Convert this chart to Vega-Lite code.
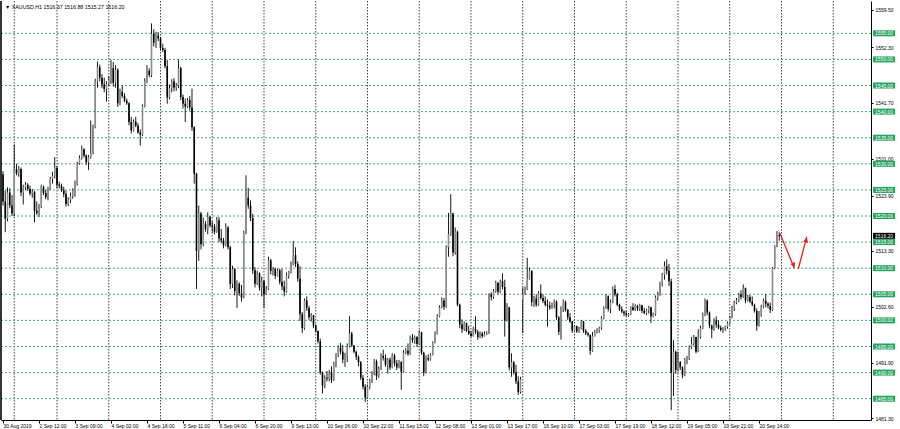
{
"$schema":"https://vega.github.io/schema/vega-lite/v6.json",
"width":870,"height":419,"autosize":"none",
"padding":{"left":1,"top":1,"right":29,"bottom":9},
"background":"#ffffff",
"config":{"view":{"stroke":null},"text":{"font":"Liberation Sans"},
 "scale":{"continuousPadding":0},
 "axis":{"grid":false,"titleOpacity":0,"titlePadding":0,"labelFont":"Liberation Sans","labelFontSize":5,"labelColor":"#000000","tickColor":"#000000","domainColor":"#000000","labelOverlap":false,"labelBound":false,"labelFlush":false}},
"datasets":{
"lv":[{"p":1485},{"p":1490},{"p":1495},{"p":1500},{"p":1505},{"p":1510},{"p":1515},{"p":1520},{"p":1525},{"p":1530},{"p":1535},{"p":1540},{"p":1545},{"p":1550},{"p":1555}],
"vg":[{"i":5},{"i":24},{"i":47},{"i":70},{"i":93},{"i":116},{"i":139},{"i":162},{"i":185},{"i":208},{"i":231},{"i":254},{"i":277},{"i":300},{"i":323},{"i":346},{"i":369}],
"ar":[{"seg":1,"i":345.3,"p":1516.7},{"seg":1,"i":351.7,"p":1510.0},{"seg":2,"i":353.5,"p":1509.9},{"seg":2,"i":357.2,"p":1516.0}],
"bars":[
{"i":0,"o":1528,"h":1528.6,"l":1522,"c":1522.8},{"i":1,"o":1522.8,"h":1524.9,"l":1516.9,"c":1519.5},{"i":2,"o":1519.5,"h":1525.5,"l":1519,"c":1524.5},{"i":3,"o":1524.5,"h":1525.3,"l":1521.5,"c":1522},{"i":4,"o":1522,"h":1524,"l":1520,"c":1520.5},{"i":5,"o":1520.5,"h":1533.7,"l":1520,"c":1529},{"i":6,"o":1529,"h":1530,"l":1527.8,"c":1528.2},{"i":7,"o":1528.2,"h":1529.6,"l":1527.5,"c":1529},{"i":8,"o":1529,"h":1529.3,"l":1523.8,"c":1524.5},{"i":9,"o":1524.5,"h":1526,"l":1522.2,"c":1525.5},
{"i":10,"o":1525.5,"h":1526.5,"l":1525,"c":1526},{"i":11,"o":1526,"h":1526.3,"l":1524.8,"c":1525.2},{"i":12,"o":1525.2,"h":1525.8,"l":1523.9,"c":1524.3},{"i":13,"o":1524.3,"h":1525.2,"l":1523.5,"c":1524.6},{"i":14,"o":1524.6,"h":1524.8,"l":1518.8,"c":1521},{"i":15,"o":1521,"h":1522.8,"l":1520.2,"c":1520.6},{"i":16,"o":1520.6,"h":1522.3,"l":1519.8,"c":1521.9},{"i":17,"o":1521.9,"h":1526,"l":1521.5,"c":1525.6},{"i":18,"o":1525.6,"h":1525.8,"l":1524,"c":1524.4},{"i":19,"o":1524.4,"h":1525,"l":1523.2,"c":1523.6},
{"i":20,"o":1523.6,"h":1525.6,"l":1523,"c":1525.2},{"i":21,"o":1525.2,"h":1527.5,"l":1525,"c":1527.1},{"i":22,"o":1527.1,"h":1528.5,"l":1526.2,"c":1527.6},{"i":23,"o":1527.6,"h":1531.3,"l":1527.2,"c":1529.2},{"i":24,"o":1529.2,"h":1529.6,"l":1525.3,"c":1526},{"i":25,"o":1526,"h":1526.6,"l":1525.3,"c":1525.8},{"i":26,"o":1525.8,"h":1526.2,"l":1524.6,"c":1525},{"i":27,"o":1525,"h":1525.6,"l":1523.6,"c":1524.2},{"i":28,"o":1524.2,"h":1524.8,"l":1521.8,"c":1522.3},{"i":29,"o":1522.3,"h":1523.6,"l":1521.9,"c":1523.1},
{"i":30,"o":1523.1,"h":1524.5,"l":1522.5,"c":1523.8},{"i":31,"o":1523.8,"h":1525.3,"l":1523.3,"c":1524.9},{"i":32,"o":1524.9,"h":1526.8,"l":1523.7,"c":1526.2},{"i":33,"o":1526.2,"h":1530.4,"l":1525.8,"c":1530},{"i":34,"o":1530,"h":1531.6,"l":1529.8,"c":1531.1},{"i":35,"o":1531.1,"h":1533.5,"l":1530.8,"c":1532.8},{"i":36,"o":1532.8,"h":1533,"l":1531.2,"c":1531.6},{"i":37,"o":1531.6,"h":1531.8,"l":1529.8,"c":1530.3},{"i":38,"o":1530.3,"h":1531.7,"l":1528.8,"c":1531.3},{"i":39,"o":1531.3,"h":1538.3,"l":1531,"c":1532},
{"i":40,"o":1532,"h":1537.5,"l":1531.8,"c":1537},{"i":41,"o":1537,"h":1546.3,"l":1536.8,"c":1545.8},{"i":42,"o":1545.8,"h":1549.6,"l":1544.6,"c":1548.5},{"i":43,"o":1548.5,"h":1549,"l":1545.8,"c":1546.5},{"i":44,"o":1546.5,"h":1547.2,"l":1544.5,"c":1545.2},{"i":45,"o":1545.2,"h":1546.5,"l":1543.7,"c":1544.3},{"i":46,"o":1544.3,"h":1545.8,"l":1541.9,"c":1545.3},{"i":47,"o":1545.3,"h":1546.8,"l":1544.9,"c":1546.1},{"i":48,"o":1546.1,"h":1549.9,"l":1545.3,"c":1548.3},{"i":49,"o":1548.3,"h":1549.5,"l":1544.8,"c":1545.5},
{"i":50,"o":1545.5,"h":1548.9,"l":1544.6,"c":1548},{"i":51,"o":1548,"h":1548.3,"l":1540.9,"c":1541.6},{"i":52,"o":1541.6,"h":1544.4,"l":1541.2,"c":1543.8},{"i":53,"o":1543.8,"h":1545,"l":1542.6,"c":1543},{"i":54,"o":1543,"h":1543.5,"l":1541.8,"c":1542.1},{"i":55,"o":1542.1,"h":1542.5,"l":1541.3,"c":1541.6},{"i":56,"o":1541.6,"h":1541.8,"l":1537.4,"c":1538},{"i":57,"o":1538,"h":1539,"l":1535.8,"c":1536.4},{"i":58,"o":1536.4,"h":1538.5,"l":1536.2,"c":1538.1},{"i":59,"o":1538.1,"h":1539,"l":1537,"c":1537.3},
{"i":60,"o":1537.3,"h":1537.8,"l":1535.8,"c":1536},{"i":61,"o":1536,"h":1536.6,"l":1533.5,"c":1535.6},{"i":62,"o":1535.6,"h":1541.4,"l":1535.3,"c":1541},{"i":63,"o":1541,"h":1546.4,"l":1540.8,"c":1545.8},{"i":64,"o":1545.8,"h":1548.9,"l":1545.5,"c":1547.8},{"i":65,"o":1547.8,"h":1548.3,"l":1546.6,"c":1547},{"i":66,"o":1547,"h":1556.9,"l":1546.6,"c":1554.9},{"i":67,"o":1554.9,"h":1555.8,"l":1552.5,"c":1553.2},{"i":68,"o":1553.2,"h":1555.3,"l":1552.2,"c":1554.6},{"i":69,"o":1554.6,"h":1555.2,"l":1553.5,"c":1554},
{"i":70,"o":1554,"h":1554.3,"l":1551.7,"c":1552.2},{"i":71,"o":1552.2,"h":1553,"l":1551.4,"c":1551.8},{"i":72,"o":1551.8,"h":1552.2,"l":1548.3,"c":1548.7},{"i":73,"o":1548.7,"h":1549.9,"l":1541.5,"c":1542.7},{"i":74,"o":1542.7,"h":1545.2,"l":1542.4,"c":1544.5},{"i":75,"o":1544.5,"h":1546.2,"l":1543.7,"c":1545.8},{"i":76,"o":1545.8,"h":1546.4,"l":1543.9,"c":1544.6},{"i":77,"o":1544.6,"h":1545.5,"l":1544,"c":1545},{"i":78,"o":1545,"h":1550,"l":1544.5,"c":1548.3},{"i":79,"o":1548.3,"h":1548.6,"l":1542.2,"c":1542.8},
{"i":80,"o":1542.8,"h":1543.3,"l":1540.6,"c":1541.5},{"i":81,"o":1541.5,"h":1542.5,"l":1538,"c":1541},{"i":82,"o":1541,"h":1542.6,"l":1540.7,"c":1542.2},{"i":83,"o":1542.2,"h":1543,"l":1540.2,"c":1540.8},{"i":84,"o":1540.8,"h":1544.4,"l":1536.3,"c":1537},{"i":85,"o":1537,"h":1537.2,"l":1526.2,"c":1528.1},{"i":86,"o":1528.1,"h":1528.3,"l":1506,"c":1513.3},{"i":87,"o":1513.3,"h":1522,"l":1511.4,"c":1520.5},{"i":88,"o":1520.5,"h":1520.8,"l":1513.6,"c":1514.6},{"i":89,"o":1514.6,"h":1519.7,"l":1514.2,"c":1518.5},
{"i":90,"o":1518.5,"h":1519,"l":1517,"c":1517.5},{"i":91,"o":1517.5,"h":1520.7,"l":1516.5,"c":1519.8},{"i":92,"o":1519.8,"h":1520,"l":1517.8,"c":1518.2},{"i":93,"o":1518.2,"h":1519,"l":1516.8,"c":1518},{"i":94,"o":1518,"h":1518.5,"l":1516.5,"c":1517},{"i":95,"o":1517,"h":1519.8,"l":1516.8,"c":1519.2},{"i":96,"o":1519.2,"h":1519.8,"l":1515,"c":1515.7},{"i":97,"o":1515.7,"h":1517.5,"l":1514.8,"c":1515.3},{"i":98,"o":1515.3,"h":1515.8,"l":1513.8,"c":1514.4},{"i":99,"o":1514.4,"h":1518.6,"l":1514.2,"c":1517.8},
{"i":100,"o":1517.8,"h":1518.1,"l":1513.6,"c":1514},{"i":101,"o":1514,"h":1514.3,"l":1506,"c":1507},{"i":102,"o":1507,"h":1510.5,"l":1506.2,"c":1509.8},{"i":103,"o":1509.8,"h":1510,"l":1504.8,"c":1505.6},{"i":104,"o":1505.6,"h":1507.7,"l":1502.4,"c":1507},{"i":105,"o":1507,"h":1507.3,"l":1504.7,"c":1505.2},{"i":106,"o":1505.2,"h":1506.8,"l":1503.6,"c":1504.4},{"i":107,"o":1504.4,"h":1517.2,"l":1504.2,"c":1516.8},{"i":108,"o":1516.8,"h":1527.8,"l":1516.5,"c":1523.5},{"i":109,"o":1523.5,"h":1525.4,"l":1521.4,"c":1522},
{"i":110,"o":1522,"h":1523,"l":1519,"c":1519.6},{"i":111,"o":1519.6,"h":1520.4,"l":1508.9,"c":1509.6},{"i":112,"o":1509.6,"h":1510.2,"l":1506.3,"c":1507},{"i":113,"o":1507,"h":1509.5,"l":1506.8,"c":1509},{"i":114,"o":1509,"h":1509.2,"l":1505.7,"c":1506.3},{"i":115,"o":1506.3,"h":1508.4,"l":1504.6,"c":1507.5},{"i":116,"o":1507.5,"h":1507.8,"l":1502.4,"c":1505},{"i":117,"o":1505,"h":1506.6,"l":1504.9,"c":1506},{"i":118,"o":1506,"h":1512.2,"l":1505.8,"c":1511.5},{"i":119,"o":1511.5,"h":1511.8,"l":1508.8,"c":1509.5},
{"i":120,"o":1509.5,"h":1510.2,"l":1508.6,"c":1509.8},{"i":121,"o":1509.8,"h":1510.1,"l":1507.9,"c":1508.5},{"i":122,"o":1508.5,"h":1509.9,"l":1508.4,"c":1509.6},{"i":123,"o":1509.6,"h":1509.9,"l":1506.9,"c":1507.4},{"i":124,"o":1507.4,"h":1509.9,"l":1505.8,"c":1506.5},{"i":125,"o":1506.5,"h":1507.6,"l":1504.6,"c":1505.5},{"i":126,"o":1505.5,"h":1509.2,"l":1505.3,"c":1508.6},{"i":127,"o":1508.6,"h":1509.5,"l":1508,"c":1509.3},{"i":128,"o":1509.3,"h":1511.3,"l":1509,"c":1510.8},{"i":129,"o":1510.8,"h":1515.2,"l":1510.5,"c":1512.5},
{"i":130,"o":1512.5,"h":1514,"l":1510.2,"c":1510.8},{"i":131,"o":1510.8,"h":1511.3,"l":1507.4,"c":1508},{"i":132,"o":1508,"h":1510.4,"l":1499.9,"c":1501.2},{"i":133,"o":1501.2,"h":1501.6,"l":1497.6,"c":1498.5},{"i":134,"o":1498.5,"h":1504.2,"l":1498.2,"c":1503.8},{"i":135,"o":1503.8,"h":1504.6,"l":1501.8,"c":1502.4},{"i":136,"o":1502.4,"h":1502.8,"l":1500.1,"c":1500.6},{"i":137,"o":1500.6,"h":1501.4,"l":1499.8,"c":1501},{"i":138,"o":1501,"h":1501,"l":1498.5,"c":1499},{"i":139,"o":1499,"h":1499.2,"l":1497.7,"c":1498},
{"i":140,"o":1498,"h":1498,"l":1495.6,"c":1496},{"i":141,"o":1496,"h":1496.5,"l":1489.6,"c":1490},{"i":142,"o":1490,"h":1490.2,"l":1486,"c":1487.5},{"i":143,"o":1487.5,"h":1489.5,"l":1487,"c":1489},{"i":144,"o":1489,"h":1490.3,"l":1488.3,"c":1488.8},{"i":145,"o":1488.8,"h":1490.5,"l":1488.3,"c":1490},{"i":146,"o":1490,"h":1491.2,"l":1488,"c":1488.6},{"i":147,"o":1488.6,"h":1492.1,"l":1488.4,"c":1491.8},{"i":148,"o":1491.8,"h":1493.7,"l":1491,"c":1493.4},{"i":149,"o":1493.4,"h":1495.2,"l":1493,"c":1494.8},
{"i":150,"o":1494.8,"h":1495.7,"l":1493.5,"c":1494},{"i":151,"o":1494,"h":1495.3,"l":1491.8,"c":1492.5},{"i":152,"o":1492.5,"h":1493.8,"l":1491.1,"c":1493.2},{"i":153,"o":1493.2,"h":1495.6,"l":1492,"c":1495},{"i":154,"o":1495,"h":1500.8,"l":1494.8,"c":1497.5},{"i":155,"o":1497.5,"h":1497.8,"l":1494.9,"c":1495.2},{"i":156,"o":1495.2,"h":1495.3,"l":1493.7,"c":1494},{"i":157,"o":1494,"h":1494.2,"l":1492.4,"c":1493},{"i":158,"o":1493,"h":1493.3,"l":1491.2,"c":1492},{"i":159,"o":1492,"h":1492.2,"l":1488.6,"c":1489},
{"i":160,"o":1489,"h":1489.5,"l":1486.8,"c":1487.3},{"i":161,"o":1487.3,"h":1487.8,"l":1484.4,"c":1485.2},{"i":162,"o":1485.2,"h":1487.7,"l":1485,"c":1487.3},{"i":163,"o":1487.3,"h":1488.8,"l":1486.8,"c":1488.4},{"i":164,"o":1488.4,"h":1490.3,"l":1488,"c":1489.9},{"i":165,"o":1489.9,"h":1492.6,"l":1489.5,"c":1492.2},{"i":166,"o":1492.2,"h":1492.5,"l":1488.6,"c":1489.3},{"i":167,"o":1489.3,"h":1491.2,"l":1489,"c":1490.8},{"i":168,"o":1490.8,"h":1493.7,"l":1490.5,"c":1493.2},{"i":169,"o":1493.2,"h":1494.4,"l":1492.3,"c":1492.8},
{"i":170,"o":1492.8,"h":1493.5,"l":1491.1,"c":1491.5},{"i":171,"o":1491.5,"h":1492.8,"l":1489.8,"c":1492.5},{"i":172,"o":1492.5,"h":1492.9,"l":1490.5,"c":1491},{"i":173,"o":1491,"h":1493.7,"l":1490.8,"c":1493.3},{"i":174,"o":1493.3,"h":1493.6,"l":1491.2,"c":1491.8},{"i":175,"o":1491.8,"h":1492.4,"l":1490.5,"c":1491},{"i":176,"o":1491,"h":1492.4,"l":1490.8,"c":1492},{"i":177,"o":1492,"h":1492.2,"l":1486.7,"c":1490.2},{"i":178,"o":1490.2,"h":1494.3,"l":1490,"c":1493.8},{"i":179,"o":1493.8,"h":1494.7,"l":1493.5,"c":1494.2},
{"i":180,"o":1494.2,"h":1495.6,"l":1493.2,"c":1493.6},{"i":181,"o":1493.6,"h":1497.1,"l":1493.4,"c":1496.8},{"i":182,"o":1496.8,"h":1497.4,"l":1495.7,"c":1496.2},{"i":183,"o":1496.2,"h":1497.1,"l":1495.5,"c":1496.8},{"i":184,"o":1496.8,"h":1497,"l":1494.9,"c":1495.5},{"i":185,"o":1495.5,"h":1498.1,"l":1495.3,"c":1497.7},{"i":186,"o":1497.7,"h":1497.8,"l":1493.4,"c":1493.8},{"i":187,"o":1493.8,"h":1494,"l":1489.3,"c":1490},{"i":188,"o":1490,"h":1493.3,"l":1489.8,"c":1492.8},{"i":189,"o":1492.8,"h":1493.5,"l":1492.2,"c":1492.5},
{"i":190,"o":1492.5,"h":1493.7,"l":1492.3,"c":1493.4},{"i":191,"o":1493.4,"h":1496,"l":1493.3,"c":1495.8},{"i":192,"o":1495.8,"h":1497.9,"l":1495.6,"c":1497.5},{"i":193,"o":1497.5,"h":1501.2,"l":1497.3,"c":1500.8},{"i":194,"o":1500.8,"h":1502.9,"l":1500.6,"c":1502.5},{"i":195,"o":1502.5,"h":1504.4,"l":1502.3,"c":1503.8},{"i":196,"o":1503.8,"h":1504.3,"l":1502,"c":1502.6},{"i":197,"o":1502.6,"h":1514.4,"l":1502.4,"c":1514},{"i":198,"o":1514,"h":1520.6,"l":1512.2,"c":1516.5},{"i":199,"o":1516.5,"h":1524.2,"l":1516.2,"c":1520.5},
{"i":200,"o":1520.5,"h":1520.6,"l":1512.3,"c":1513},{"i":201,"o":1513,"h":1517.8,"l":1512.6,"c":1517},{"i":202,"o":1517,"h":1517.2,"l":1502.7,"c":1503},{"i":203,"o":1503,"h":1503.2,"l":1498.5,"c":1499.2},{"i":204,"o":1499.2,"h":1500.2,"l":1497.6,"c":1498.3},{"i":205,"o":1498.3,"h":1499.8,"l":1498,"c":1499.5},{"i":206,"o":1499.5,"h":1499.6,"l":1497.8,"c":1498},{"i":207,"o":1498,"h":1499,"l":1497.2,"c":1497.5},{"i":208,"o":1497.5,"h":1498,"l":1496.8,"c":1497},{"i":209,"o":1497,"h":1498.8,"l":1496.9,"c":1498.4},
{"i":210,"o":1498.4,"h":1500.8,"l":1497.4,"c":1497.8},{"i":211,"o":1497.8,"h":1498.2,"l":1496.3,"c":1496.8},{"i":212,"o":1496.8,"h":1497.9,"l":1496.6,"c":1497.5},{"i":213,"o":1497.5,"h":1497.8,"l":1496.6,"c":1497},{"i":214,"o":1497,"h":1497.9,"l":1496.9,"c":1497.4},{"i":215,"o":1497.4,"h":1497.9,"l":1497.2,"c":1497.6},{"i":216,"o":1497.6,"h":1505.2,"l":1497.4,"c":1505},{"i":217,"o":1505,"h":1505.4,"l":1503.8,"c":1504.5},{"i":218,"o":1504.5,"h":1506,"l":1504.1,"c":1505.6},{"i":219,"o":1505.6,"h":1507.6,"l":1505.3,"c":1507.2},
{"i":220,"o":1507.2,"h":1507.3,"l":1505,"c":1505.5},{"i":221,"o":1505.5,"h":1507.8,"l":1505.2,"c":1507.5},{"i":222,"o":1507.5,"h":1509,"l":1505.9,"c":1506.4},{"i":223,"o":1506.4,"h":1507.8,"l":1496.9,"c":1500},{"i":224,"o":1500,"h":1503.3,"l":1499.8,"c":1502.5},{"i":225,"o":1502.5,"h":1502.6,"l":1490.4,"c":1491},{"i":226,"o":1491,"h":1493.7,"l":1489.2,"c":1492},{"i":227,"o":1492,"h":1492.2,"l":1489.6,"c":1490},{"i":228,"o":1490,"h":1491.5,"l":1487.8,"c":1488.3},{"i":229,"o":1488.3,"h":1489.3,"l":1485.7,"c":1486.3},
{"i":230,"o":1486.3,"h":1489.2,"l":1486,"c":1488.7},{"i":231,"o":1504,"h":1506.3,"l":1497.6,"c":1505},{"i":232,"o":1505,"h":1506.5,"l":1504.9,"c":1506},{"i":233,"o":1506,"h":1512,"l":1505.8,"c":1508},{"i":234,"o":1508,"h":1510.1,"l":1507.8,"c":1509.5},{"i":235,"o":1509.5,"h":1509.6,"l":1502.7,"c":1503.5},{"i":236,"o":1503.5,"h":1504.7,"l":1502.6,"c":1504.2},{"i":237,"o":1504.2,"h":1505,"l":1502.6,"c":1503},{"i":238,"o":1503,"h":1505.6,"l":1502.8,"c":1505.2},{"i":239,"o":1505.2,"h":1506.9,"l":1504,"c":1504.3},
{"i":240,"o":1504.3,"h":1505,"l":1503.3,"c":1503.7},{"i":241,"o":1503.7,"h":1504.6,"l":1502.7,"c":1503},{"i":242,"o":1503,"h":1504,"l":1498.8,"c":1502.8},{"i":243,"o":1502.8,"h":1503.6,"l":1502,"c":1502.4},{"i":244,"o":1502.4,"h":1503.4,"l":1502.2,"c":1503.1},{"i":245,"o":1503.1,"h":1504,"l":1502.3,"c":1503.6},{"i":246,"o":1503.6,"h":1503.8,"l":1500.1,"c":1500.6},{"i":247,"o":1500.6,"h":1500.8,"l":1497.2,"c":1497.8},{"i":248,"o":1497.8,"h":1502.7,"l":1496.3,"c":1502},{"i":249,"o":1502,"h":1504,"l":1501.6,"c":1503.5},
{"i":250,"o":1503.5,"h":1503.8,"l":1501.7,"c":1502},{"i":251,"o":1502,"h":1502.2,"l":1500.1,"c":1500.6},{"i":252,"o":1500.6,"h":1501.4,"l":1499.5,"c":1499.8},{"i":253,"o":1499.8,"h":1499.9,"l":1497.6,"c":1498},{"i":254,"o":1498,"h":1499.1,"l":1497.9,"c":1498.9},{"i":255,"o":1498.9,"h":1499,"l":1497.6,"c":1497.9},{"i":256,"o":1497.9,"h":1498.8,"l":1497.6,"c":1498.5},{"i":257,"o":1498.5,"h":1500.1,"l":1498.3,"c":1499.8},{"i":258,"o":1499.8,"h":1499.9,"l":1497.6,"c":1498},{"i":259,"o":1498,"h":1498.3,"l":1497.2,"c":1497.5},
{"i":260,"o":1497.5,"h":1497.8,"l":1496.9,"c":1497.2},{"i":261,"o":1497.2,"h":1497.3,"l":1493.4,"c":1494.2},{"i":262,"o":1494.2,"h":1497.8,"l":1494,"c":1497},{"i":263,"o":1497,"h":1498.2,"l":1496.9,"c":1497.8},{"i":264,"o":1497.8,"h":1498.5,"l":1497.5,"c":1498},{"i":265,"o":1498,"h":1498.8,"l":1497.6,"c":1498.6},{"i":266,"o":1498.6,"h":1500.8,"l":1498.2,"c":1500.4},{"i":267,"o":1500.4,"h":1502.7,"l":1500.2,"c":1502.4},{"i":268,"o":1502.4,"h":1505,"l":1502.2,"c":1504.6},{"i":269,"o":1504.6,"h":1504.8,"l":1501.7,"c":1502.2},
{"i":270,"o":1502.2,"h":1504,"l":1501.4,"c":1503.5},{"i":271,"o":1503.5,"h":1506.5,"l":1503.3,"c":1506},{"i":272,"o":1506,"h":1506.8,"l":1504.6,"c":1505},{"i":273,"o":1505,"h":1505.3,"l":1502.7,"c":1503},{"i":274,"o":1503,"h":1503.2,"l":1501.8,"c":1502.2},{"i":275,"o":1502.2,"h":1502.7,"l":1501.4,"c":1501.7},{"i":276,"o":1501.7,"h":1501.9,"l":1500.8,"c":1501.3},{"i":277,"o":1501.3,"h":1501.8,"l":1500.8,"c":1501},{"i":278,"o":1501,"h":1501.4,"l":1500.7,"c":1501.2},{"i":279,"o":1501.2,"h":1502.7,"l":1501,"c":1502.5},
{"i":280,"o":1502.5,"h":1503.3,"l":1501.8,"c":1502},{"i":281,"o":1502,"h":1503.1,"l":1501.8,"c":1502.8},{"i":282,"o":1502.8,"h":1503,"l":1501.8,"c":1502.2},{"i":283,"o":1502.2,"h":1503.2,"l":1501.8,"c":1502.9},{"i":284,"o":1502.9,"h":1503,"l":1501.4,"c":1501.8},{"i":285,"o":1501.8,"h":1502.4,"l":1501.2,"c":1501.4},{"i":286,"o":1501.4,"h":1502.2,"l":1501,"c":1501.9},{"i":287,"o":1501.9,"h":1502.8,"l":1501.3,"c":1502.5},{"i":288,"o":1502.5,"h":1502.6,"l":1499.5,"c":1500.8},{"i":289,"o":1500.8,"h":1501.5,"l":1500.6,"c":1501.2},
{"i":290,"o":1501.2,"h":1504.8,"l":1500.9,"c":1504.4},{"i":291,"o":1504.4,"h":1505.5,"l":1503.8,"c":1505},{"i":292,"o":1505,"h":1507.4,"l":1504.7,"c":1507},{"i":293,"o":1507,"h":1509.1,"l":1506.5,"c":1508.8},{"i":294,"o":1508.8,"h":1511.3,"l":1507.8,"c":1510.4},{"i":295,"o":1510.4,"h":1511.7,"l":1508.8,"c":1509.5},{"i":296,"o":1509.5,"h":1510.8,"l":1506.6,"c":1507.5},{"i":297,"o":1507.5,"h":1508,"l":1482.8,"c":1490},{"i":298,"o":1490,"h":1496.2,"l":1485.5,"c":1494},{"i":299,"o":1494,"h":1494.2,"l":1489.8,"c":1490.5},
{"i":300,"o":1490.5,"h":1494,"l":1490.3,"c":1492},{"i":301,"o":1492,"h":1492.2,"l":1490.5,"c":1491},{"i":302,"o":1491,"h":1491.2,"l":1488.9,"c":1489.5},{"i":303,"o":1489.5,"h":1492.8,"l":1489.3,"c":1492.5},{"i":304,"o":1492.5,"h":1493.2,"l":1491.6,"c":1492.6},{"i":305,"o":1492.6,"h":1495.2,"l":1492.4,"c":1494.8},{"i":306,"o":1494.8,"h":1496.8,"l":1494.5,"c":1495.5},{"i":307,"o":1495.5,"h":1497.2,"l":1495.2,"c":1496.8},{"i":308,"o":1496.8,"h":1496.9,"l":1493.7,"c":1494},{"i":309,"o":1494,"h":1498.3,"l":1493.9,"c":1496.8},
{"i":310,"o":1496.8,"h":1499,"l":1496.5,"c":1498.5},{"i":311,"o":1498.5,"h":1501.5,"l":1498.3,"c":1501},{"i":312,"o":1501,"h":1504.2,"l":1500.8,"c":1503.8},{"i":313,"o":1503.8,"h":1504,"l":1501,"c":1501.5},{"i":314,"o":1501.5,"h":1501.7,"l":1498.5,"c":1499},{"i":315,"o":1499,"h":1499.2,"l":1496.6,"c":1498.3},{"i":316,"o":1498.3,"h":1500.4,"l":1498,"c":1500},{"i":317,"o":1500,"h":1500.8,"l":1498.6,"c":1499.2},{"i":318,"o":1499.2,"h":1500,"l":1498.3,"c":1498.6},{"i":319,"o":1498.6,"h":1499,"l":1497.9,"c":1498.2},
{"i":320,"o":1498.2,"h":1498.7,"l":1497.6,"c":1498.5},{"i":321,"o":1498.5,"h":1499,"l":1498,"c":1498.8},{"i":322,"o":1498.8,"h":1499.8,"l":1498.4,"c":1499.5},{"i":323,"o":1499.5,"h":1500.9,"l":1499.2,"c":1500.6},{"i":324,"o":1500.6,"h":1502.8,"l":1500.4,"c":1502.5},{"i":325,"o":1502.5,"h":1503.8,"l":1501.8,"c":1503.4},{"i":326,"o":1503.4,"h":1504.3,"l":1503.1,"c":1503.8},{"i":327,"o":1503.8,"h":1505.3,"l":1503.5,"c":1505},{"i":328,"o":1505,"h":1505.8,"l":1504,"c":1504.5},{"i":329,"o":1504.5,"h":1506.9,"l":1504.3,"c":1506.2},
{"i":330,"o":1506.2,"h":1506.3,"l":1503.3,"c":1503.8},{"i":331,"o":1503.8,"h":1504.9,"l":1503.6,"c":1504.5},{"i":332,"o":1504.5,"h":1504.9,"l":1503.3,"c":1503.6},{"i":333,"o":1503.6,"h":1504.6,"l":1502.7,"c":1503},{"i":334,"o":1503,"h":1503.2,"l":1501.5,"c":1501.8},{"i":335,"o":1501.8,"h":1502.3,"l":1498,"c":1499},{"i":336,"o":1499,"h":1501.8,"l":1498.8,"c":1501},{"i":337,"o":1501,"h":1503,"l":1500.7,"c":1502.5},{"i":338,"o":1502.5,"h":1504.2,"l":1502.3,"c":1503.8},{"i":339,"o":1503.8,"h":1505,"l":1502.5,"c":1503.2},
{"i":340,"o":1503.2,"h":1503.5,"l":1502.3,"c":1502.8},{"i":341,"o":1502.8,"h":1503.4,"l":1501.4,"c":1502},{"i":342,"o":1502,"h":1510.2,"l":1501.8,"c":1510},{"i":343,"o":1510,"h":1514.4,"l":1509.8,"c":1514.2},{"i":344,"o":1514.2,"h":1517.1,"l":1514,"c":1516.4},{"i":345,"o":1516.37,"h":1516.88,"l":1515.27,"c":1516.2}
]},
"layer":[
{"data":{"name":"vg"},"mark":{"type":"rule","color":"#444444","strokeWidth":1,"strokeDash":[1.5,1.5]},
 "encoding":{"x":{"field":"i","type":"quantitative","scale":{"domain":[-0.889,385.78],"nice":false,"zero":false,"padding":0},
   "axis":{"values":[0,16,32,48,64,80,96,112,128,144,160,176,192,208,224,240,256,272,288,304,320,336],
    "labelExpr":"['30 Aug 2019','2 Sep 12:00','3 Sep 09:00','4 Sep 02:00','4 Sep 18:00','5 Sep 11:00','6 Sep 04:00','6 Sep 20:00','9 Sep 13:00','10 Sep 06:00','10 Sep 22:00','11 Sep 15:00','12 Sep 08:00','13 Sep 01:00','13 Sep 17:00','16 Sep 10:00','17 Sep 03:00','17 Sep 19:00','18 Sep 12:00','19 Sep 05:00','19 Sep 21:00','20 Sep 14:00'][round(datum.value/16)]",
    "labelAlign":"left","labelBaseline":"top","tickSize":3,"labelPadding":0,"labelOverlap":false,"grid":false,"title":null}}}},
{"data":{"name":"lv"},"mark":{"type":"rule","color":"#3fb074","strokeWidth":1,"strokeDash":[2,2]},
 "encoding":{"y":{"field":"p","type":"quantitative","scale":{"domain":[1480.92,1561.19],"nice":false,"zero":false,"padding":0},
   "axis":{"orient":"right","values":[1559.5,1555.9,1552.3,1548.8,1541.7,1538.1,1531.0,1527.5,1523.9,1516.8,1513.3,1506.1,1502.6,1499.0,1491.9,1488.4,1481.3],
    "format":".2f","tickSize":2,"labelPadding":2,"labelOverlap":false,"grid":false,"title":null}}}},
{"data":{"values":[{"e":-0.889}]},"mark":{"type":"rule","color":"#000000","strokeWidth":1.6},
 "encoding":{"x":{"field":"e","type":"quantitative","scale":{"domain":[-0.889,385.78],"nice":false,"zero":false,"padding":0}}}},
{"data":{"name":"bars"},"mark":{"type":"rule","color":"#000000","strokeWidth":0.9},
 "encoding":{
  "x":{"field":"i","type":"quantitative","scale":{"domain":[-0.889,385.78],"nice":false,"zero":false,"padding":0}},
  "y":{"field":"l","type":"quantitative","scale":{"domain":[1480.92,1561.19],"nice":false,"zero":false,"padding":0}},
  "y2":{"field":"h"}}},
{"data":{"name":"bars"},"mark":{"type":"bar","size":1.6},
 "encoding":{
  "x":{"field":"i","type":"quantitative","scale":{"domain":[-0.889,385.78],"nice":false,"zero":false,"padding":0}},
  "y":{"field":"o","type":"quantitative","scale":{"domain":[1480.92,1561.19],"nice":false,"zero":false,"padding":0}},
  "y2":{"field":"c"},
  "color":{"condition":{"test":"datum.c >= datum.o","value":"#8c8c8c"},"value":"#000000"}}},
{"data":{"name":"ar"},"mark":{"type":"line","color":"#e3211c","strokeWidth":1.3},
 "encoding":{
  "x":{"field":"i","type":"quantitative","scale":{"domain":[-0.889,385.78],"nice":false,"zero":false,"padding":0}},
  "y":{"field":"p","type":"quantitative","scale":{"domain":[1480.92,1561.19],"nice":false,"zero":false,"padding":0}},
  "detail":{"field":"seg","type":"nominal"}}},
{"data":{"values":[{"i":351.4,"p":1510.6}]},"mark":{"type":"point","shape":"triangle-down","angle":-22,"filled":true,"color":"#e3211c","size":28,"opacity":1},
 "encoding":{
  "x":{"field":"i","type":"quantitative","scale":{"domain":[-0.889,385.78],"nice":false,"zero":false,"padding":0}},
  "y":{"field":"p","type":"quantitative","scale":{"domain":[1480.92,1561.19],"nice":false,"zero":false,"padding":0}}}},
{"data":{"values":[{"i":357.0,"p":1515.4}]},"mark":{"type":"point","shape":"triangle-up","angle":15,"filled":true,"color":"#e3211c","size":28,"opacity":1},
 "encoding":{
  "x":{"field":"i","type":"quantitative","scale":{"domain":[-0.889,385.78],"nice":false,"zero":false,"padding":0}},
  "y":{"field":"p","type":"quantitative","scale":{"domain":[1480.92,1561.19],"nice":false,"zero":false,"padding":0}}}},
{"data":{"name":"lv"},"mark":{"type":"tick","orient":"horizontal","size":22,"thickness":6,"color":"#24a35f","opacity":1},
 "encoding":{
  "x":{"datum":391.6,"type":"quantitative","scale":{"domain":[-0.889,385.78],"nice":false,"zero":false,"padding":0}},
  "y":{"field":"p","type":"quantitative","scale":{"domain":[1480.92,1561.19],"nice":false,"zero":false,"padding":0}}}},
{"data":{"name":"lv"},"mark":{"type":"text","align":"center","baseline":"middle","color":"#ffffff","fontSize":5,"font":"Liberation Sans"},
 "encoding":{
  "x":{"datum":391.6,"type":"quantitative","scale":{"domain":[-0.889,385.78],"nice":false,"zero":false,"padding":0}},
  "y":{"field":"p","type":"quantitative","scale":{"domain":[1480.92,1561.19],"nice":false,"zero":false,"padding":0}},
  "text":{"field":"p","type":"quantitative","format":".2f"}}},
{"data":{"values":[{"p":1516.2}]},"mark":{"type":"tick","orient":"horizontal","size":22,"thickness":6,"color":"#000000","opacity":1},
 "encoding":{
  "x":{"datum":391.6,"type":"quantitative","scale":{"domain":[-0.889,385.78],"nice":false,"zero":false,"padding":0}},
  "y":{"field":"p","type":"quantitative","scale":{"domain":[1480.92,1561.19],"nice":false,"zero":false,"padding":0}}}},
{"data":{"values":[{"p":1516.2}]},"mark":{"type":"text","align":"center","baseline":"middle","color":"#ffffff","fontSize":5,"font":"Liberation Sans"},
 "encoding":{
  "x":{"datum":391.6,"type":"quantitative","scale":{"domain":[-0.889,385.78],"nice":false,"zero":false,"padding":0}},
  "y":{"field":"p","type":"quantitative","scale":{"domain":[1480.92,1561.19],"nice":false,"zero":false,"padding":0}},
  "text":{"field":"p","type":"quantitative","format":".2f"}}},
{"data":{"values":[{"t":"▼ XAUUSD,H1  1516.37 1516.88 1515.27 1516.20"}]},"mark":{"type":"text","align":"left","baseline":"middle","color":"#000000","fontSize":5.3,"font":"Liberation Sans"},
 "encoding":{
  "x":{"datum":0.9,"type":"quantitative","scale":{"domain":[-0.889,385.78],"nice":false,"zero":false,"padding":0}},
  "y":{"datum":1560.0,"type":"quantitative","scale":{"domain":[1480.92,1561.19],"nice":false,"zero":false,"padding":0}},
  "text":{"field":"t","type":"nominal"}}}
]
}
